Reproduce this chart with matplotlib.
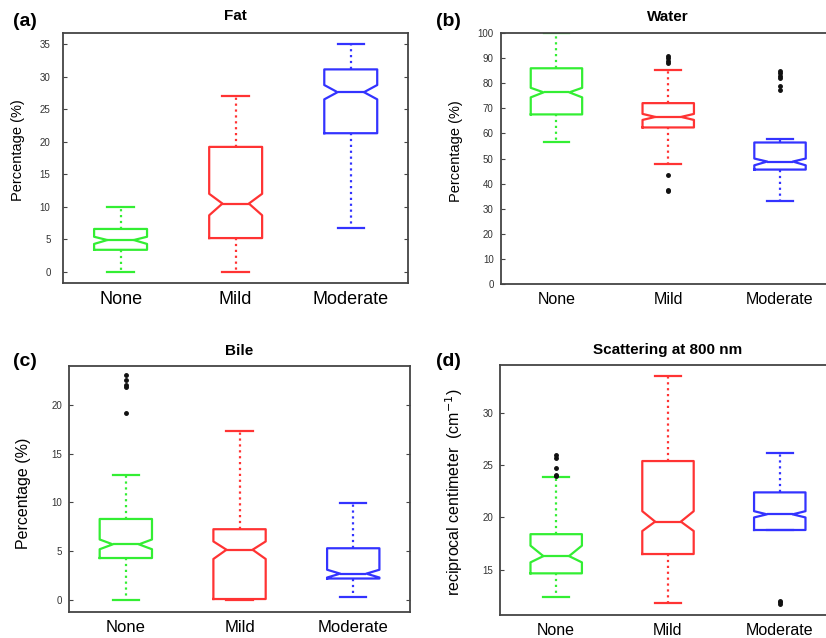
"""
Notched box plots of fat, water, bile and scattering by steatosis grade.
"""

import matplotlib
matplotlib.use("Agg")
import matplotlib.pyplot as plt

plt.rcParams.update({
    "font.family": ["Liberation Sans", "DejaVu Sans"],
    "figure.facecolor": "white",
    "axes.facecolor": "white",
})

groups = ["None", "Mild", "Moderate"]
colors = ["#33ee33", "#ff3333", "#3333ff"]

# ── data ─────────────────────────────────────────────────────────────────
fat_whislo = [0.0, 0.0, 6.8]
fat_q1 = [3.4, 5.2, 21.3]
fat_cilo = [4.3, 8.7, 26.5]
fat_med = [4.9, 10.5, 27.6]
fat_cihi = [5.4, 12.0, 28.7]
fat_q3 = [6.6, 19.2, 31.1]
fat_whishi = [10.0, 27.0, 35.0]
fat_fliers = [[], [], []]

water_whislo = [56.4, 47.8, 32.9]
water_q1 = [67.6, 62.4, 45.6]
water_cilo = [74.4, 65.4, 47.3]
water_med = [76.4, 66.6, 48.8]
water_cihi = [78.2, 67.8, 50.0]
water_q3 = [86.0, 72.1, 56.4]
water_whishi = [100.0, 85.2, 57.9]
water_fliers = [[], [91.0, 90.0, 89.0, 88.0, 43.5, 37.5, 37.0],
                [85.0, 84.0, 83.0, 82.0, 79.0, 77.5]]

bile_whislo = [0.0, 0.0, 0.3]
bile_q1 = [4.3, 0.1, 2.2]
bile_cilo = [5.2, 4.2, 2.3]
bile_med = [5.7, 5.15, 2.7]
bile_cihi = [6.2, 6.0, 3.1]
bile_q3 = [8.3, 7.25, 5.3]
bile_whishi = [12.8, 17.3, 9.9]
bile_fliers = [[23.0, 22.5, 22.0, 21.8, 19.2], [], []]

scat_whislo = [12.4, 11.8, 18.8]
scat_q1 = [14.65, 16.5, 18.8]
scat_cilo = [15.7, 18.7, 20.0]
scat_med = [16.3, 19.6, 20.3]
scat_cihi = [17.3, 20.6, 20.6]
scat_q3 = [18.4, 25.4, 22.4]
scat_whishi = [23.9, 33.5, 26.2]
scat_fliers = [[26.0, 25.7, 24.7, 24.1, 24.0], [], [12.0, 11.9, 11.7]]


def make_stats(whislo, q1, cilo, med, cihi, q3, whishi, fliers):
    return [dict(whislo=a, q1=b, cilo=c, med=d, cihi=e, q3=f, whishi=g, fliers=h)
            for a, b, c, d, e, f, g, h in
            zip(whislo, q1, cilo, med, cihi, q3, whishi, fliers)]


def draw_panel(ax, stats, title, ylabel, ylim, yticks, title_pad,
               xfont, yfont, ypad, label_xy):
    res = ax.bxp(stats, positions=[1, 2, 3], widths=0.46, shownotches=True,
                 flierprops=dict(marker=".", markersize=5, markerfacecolor="#111111",
                                 markeredgecolor="#111111", linestyle="none"),
                 whiskerprops=dict(linestyle=":", linewidth=1.6),
                 capprops=dict(linewidth=1.6),
                 boxprops=dict(linewidth=1.6),
                 medianprops=dict(linewidth=1.6))
    for i, c in enumerate(colors):
        res["boxes"][i].set_color(c)
        res["medians"][i].set_color(c)
        for j in (2 * i, 2 * i + 1):
            res["whiskers"][j].set_color(c)
            res["caps"][j].set_color(c)

    ax.set_xlim(0.5, 3.5)
    ax.set_ylim(*ylim)
    ax.set_yticks(yticks)
    ax.set_xticks([1, 2, 3])
    ax.set_xticklabels(groups, fontsize=xfont)
    ax.tick_params(axis="x", length=0, pad=6)
    ax.tick_params(axis="y", direction="in", left=True, right=True, length=3,
                   labelsize=7, pad=ypad, colors="#444444", labelcolor="#333333")
    for sp in ax.spines.values():
        sp.set_color("#444444")
        sp.set_linewidth(1.3)
    ax.set_title(title, fontsize=11, fontweight="bold", pad=title_pad)
    ax.set_ylabel(ylabel, fontsize=yfont)
    ax.yaxis.set_label_coords(*label_xy)


fig = plt.figure(figsize=(8.26, 6.38), dpi=100)

ax_a = fig.add_axes([0.0763, 0.5564, 0.418, 0.392])
ax_b = fig.add_axes([0.606, 0.555, 0.406, 0.393])
ax_c = fig.add_axes([0.0835, 0.0412, 0.413, 0.3856])
ax_d = fig.add_axes([0.6057, 0.036, 0.406, 0.392])

draw_panel(ax_a, make_stats(fat_whislo, fat_q1, fat_cilo, fat_med, fat_cihi,
                            fat_q3, fat_whishi, fat_fliers),
           "Fat", "Percentage (%)", (-1.7, 36.7), range(0, 36, 5), 9,
           13, 10.5, 9, (-0.11, 0.53))
draw_panel(ax_b, make_stats(water_whislo, water_q1, water_cilo, water_med,
                            water_cihi, water_q3, water_whishi, water_fliers),
           "Water", "Percentage (%)", (0, 100), range(0, 101, 10), 9,
           11.5, 10.5, 5, (-0.112, 0.53))
draw_panel(ax_c, make_stats(bile_whislo, bile_q1, bile_cilo, bile_med,
                            bile_cihi, bile_q3, bile_whishi, bile_fliers),
           "Bile", "Percentage (%)", (-1.2, 24.0), range(0, 21, 5), 8,
           12, 11.5, 5, (-0.11, 0.48))
draw_panel(ax_d, make_stats(scat_whislo, scat_q1, scat_cilo, scat_med,
                            scat_cihi, scat_q3, scat_whishi, scat_fliers),
           "Scattering at 800 nm", "reciprocal centimeter  (cm$^{-1}$)",
           (10.66, 34.6), range(15, 31, 5), 8, 11.5, 11.5, 5, (-0.104, 0.49))

# panel tags at fixed spots in the figure
for tag, (x, y) in zip(["(a)", "(b)", "(c)", "(d)"],
                       [(13, 22), (436, 22), (13, 362), (436, 362)]):
    fig.text(x / 826, 1 - y / 638, tag, fontsize=14, fontweight="bold",
             ha="left", va="center")

fig.savefig("out.png", dpi=100)
